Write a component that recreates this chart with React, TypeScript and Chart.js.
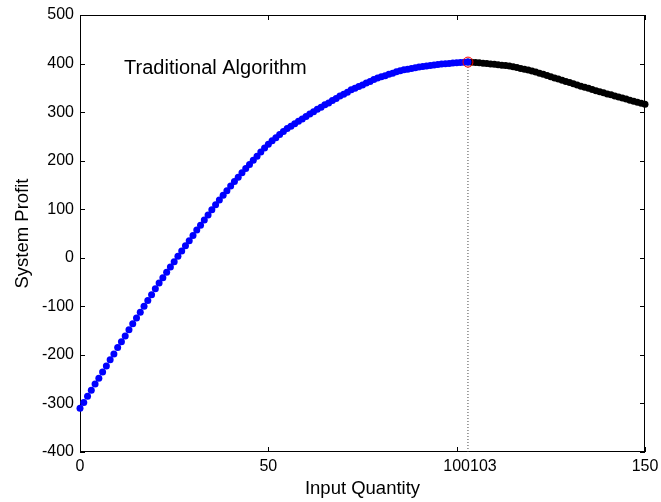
import React, { useEffect, useRef } from "react";
import { Chart, registerables } from "chart.js";

Chart.register(...registerables);

// Traditional algorithm: system profit vs input quantity
const blueX: number[] = Array.from({ length: 104 }, (_, i) => i);
const blueProfit: number[] = [
  -310, -298, -285, -273, -260, -248, -235, -223, -210, -198,
  -185, -173, -161, -148, -136, -124, -112, -100, -88, -76,
  -64, -52, -41, -30, -19, -8, 3, 14, 25, 35,
  46, 57, 67, 78, 88, 99, 109, 119, 129, 138,
  148, 157, 166, 175, 184, 192, 201, 209, 218, 226,
  234, 241, 247, 254, 260, 266, 271, 276, 281, 286,
  291, 296, 301, 306, 310, 315, 319, 324, 328, 333,
  337, 341, 346, 349, 353, 356, 360, 363, 367, 370,
  373, 375, 378, 380, 383, 385, 387, 388.5, 390, 391.5,
  393, 394, 395, 396, 397, 398, 399, 399.5, 400, 401,
  401.5, 402, 402.5, 403,
];
const blackX: number[] = Array.from({ length: 48 }, (_, i) => 103 + i);
const blackProfit: number[] = [
  403, 402.5, 402, 401.5, 400.5, 400, 399, 398.5, 397.5, 396.5,
  396, 395, 393.5, 392, 390, 388.5, 386.5, 384.5, 382.5, 380,
  378, 375.5, 373, 370.5, 368, 365.5, 363, 361, 358.5, 356,
  353.5, 351, 349, 346.5, 344, 342, 340, 337.5, 335.5, 333,
  331, 329, 327, 324.5, 322.5, 320.5, 318, 316,
];
const optimumX = 103;
const optimumProfit = 403;
const xTicks: number[] = [0, 50, 100, 150];
const extraXTickLabel = "103";
const yTicks: number[] = [-400, -300, -200, -100, 0, 100, 200, 300, 400, 500];
const annotationText = "Traditional Algorithm";
const annotationPos = { x: 11.7, y: 389 };

const FONT = "'Liberation Sans', Arial, Helvetica, sans-serif";
const TICK_SIZE = 16;
const TICK_PAD = 5;

export default function App() {
  const ref = useRef<HTMLCanvasElement | null>(null);

  useEffect(() => {
    document.body.style.margin = "0";
    const canvas = ref.current;
    if (!canvas) return;

    const boxPlugin = {
      id: "matlabBox",
      beforeDatasetsDraw(chart: any) {
        const { ctx, chartArea: a, scales } = chart;
        const xs = scales.x;
        const ys = scales.y;
        ctx.save();
        ctx.strokeStyle = "#000";
        ctx.lineWidth = 1;
        ctx.strokeRect(a.left + 0.5, a.top + 0.5, a.right - a.left - 1, a.bottom - a.top - 1);
        const tl = 5;
        ctx.beginPath();
        xTicks.forEach((v) => {
          const px = Math.round(xs.getPixelForValue(v)) + 0.5;
          ctx.moveTo(px, a.bottom);
          ctx.lineTo(px, a.bottom - tl);
          ctx.moveTo(px, a.top);
          ctx.lineTo(px, a.top + tl);
        });
        yTicks.forEach((v) => {
          const py = Math.round(ys.getPixelForValue(v)) + 0.5;
          ctx.moveTo(a.left, py);
          ctx.lineTo(a.left + tl, py);
          ctx.moveTo(a.right, py);
          ctx.lineTo(a.right - tl, py);
        });
        ctx.stroke();
        ctx.restore();
      },
      afterDraw(chart: any) {
        const { ctx, scales } = chart;
        const xs = scales.x;
        const ys = scales.y;
        ctx.save();
        ctx.fillStyle = "#000";
        ctx.font = `${TICK_SIZE}px ${FONT}`;
        const w100 = ctx.measureText("100").width;
        ctx.textAlign = "left";
        ctx.textBaseline = "middle";
        ctx.fillText(
          extraXTickLabel,
          xs.getPixelForValue(100) + w100 / 2,
          xs.top + TICK_PAD + (TICK_SIZE * 1.2) / 2
        );
        ctx.font = `20px ${FONT}`;
        ctx.fillText(annotationText, xs.getPixelForValue(annotationPos.x), ys.getPixelForValue(annotationPos.y));
        ctx.restore();
      },
    };

    const chart = new Chart(canvas, {
      type: "scatter",
      data: {
        datasets: [
          {
            label: "optimum",
            data: [{ x: optimumX, y: optimumProfit }],
            pointRadius: 5,
            pointBorderWidth: 1,
            pointBorderColor: "#ff0000",
            pointBackgroundColor: "rgba(0,0,0,0)",
            showLine: false,
          },
          {
            label: "before",
            data: blueX.map((x, i) => ({ x, y: blueProfit[i] })),
            pointRadius: 3.5,
            pointBorderWidth: 0,
            pointBackgroundColor: "#0000ff",
            pointBorderColor: "#0000ff",
            showLine: false,
          },
          {
            label: "after",
            data: blackX.map((x, i) => ({ x, y: blackProfit[i] })),
            pointRadius: 3.5,
            pointBorderWidth: 0,
            pointBackgroundColor: "#000000",
            pointBorderColor: "#000000",
            showLine: false,
          },
          {
            label: "guide",
            data: [
              { x: optimumX, y: -400 },
              { x: optimumX, y: optimumProfit },
            ],
            showLine: true,
            borderColor: "#444",
            borderWidth: 1,
            borderDash: [1, 2],
            pointRadius: 0,
          },
        ],
      },
      options: {
        responsive: false,
        animation: false,
        clip: false as any,
        layout: { padding: { top: 15, right: 16, left: 0, bottom: 0 } },
        plugins: {
          legend: { display: false },
          tooltip: { enabled: false },
        },
        scales: {
          x: {
            type: "linear",
            min: 0,
            max: 150,
            afterBuildTicks: (s: any) => {
              s.ticks = xTicks.map((v) => ({ value: v }));
            },
            afterFit: (s: any) => {
              s.height = 50;
              s.paddingLeft = 0;
              s.paddingRight = 0;
            },
            grid: { display: false, drawTicks: false },
            border: { display: false },
            ticks: {
              color: "#000",
              padding: TICK_PAD,
              font: { family: FONT, size: TICK_SIZE },
              maxRotation: 0,
              autoSkip: false,
            },
            title: {
              display: true,
              text: "Input Quantity",
              color: "#000",
              font: { family: FONT, size: 18.5 },
              padding: { top: 0, bottom: 2 },
            },
          },
          y: {
            type: "linear",
            min: -400,
            max: 500,
            afterBuildTicks: (s: any) => {
              s.ticks = yTicks.map((v) => ({ value: v }));
            },
            afterFit: (s: any) => {
              s.width = 80;
              s.paddingTop = 0;
              s.paddingBottom = 0;
            },
            grid: { display: false, drawTicks: false },
            border: { display: false },
            ticks: {
              color: "#000",
              padding: 6,
              font: { family: FONT, size: TICK_SIZE },
              autoSkip: false,
            },
            title: {
              display: true,
              text: "System Profit",
              color: "#000",
              font: { family: FONT, size: 18.5 },
              padding: { top: 12, bottom: 0 },
            },
          },
        },
      },
      plugins: [boxPlugin],
    });

    return () => chart.destroy();
  }, []);

  return (
    <div style={{ width: 661, height: 502 }}>
      <canvas ref={ref} width={661} height={502} />
    </div>
  );
}
